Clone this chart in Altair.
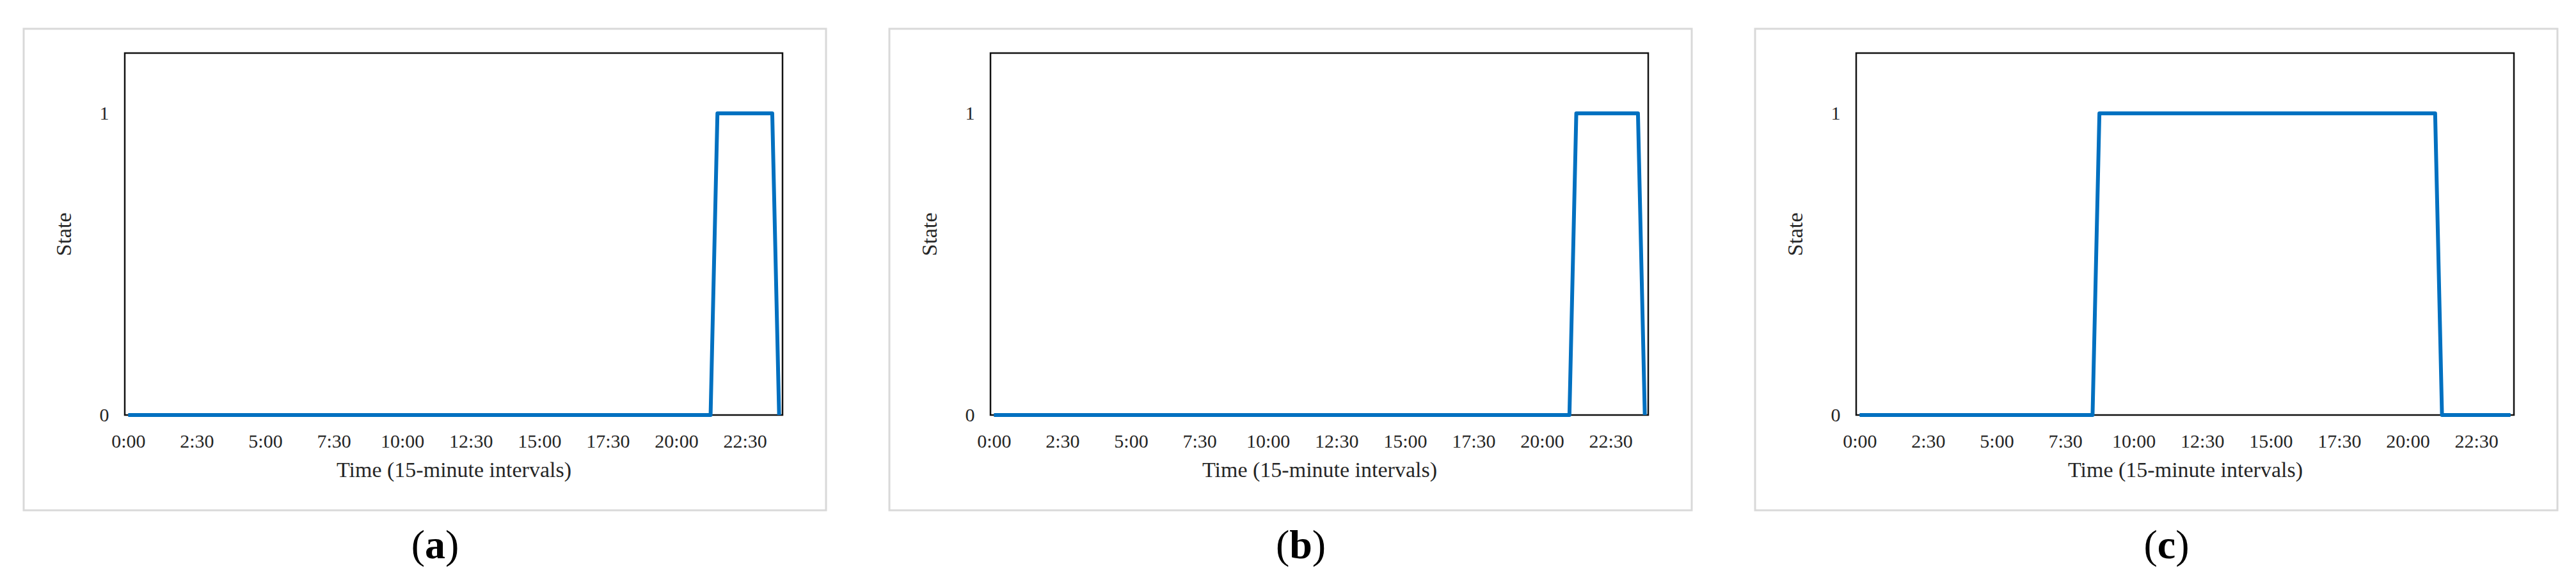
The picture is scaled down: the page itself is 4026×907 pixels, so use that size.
import altair as alt
import pandas as pd

# 15-minute time slots of one day (categories of the x axis)
times = [f"{h}:{m:02d}" for h in range(24) for m in (0, 15, 30, 45)]
# labelled ticks
x_ticks = ["0:00", "2:30", "5:00", "7:30", "10:00", "12:30", "15:00", "17:30", "20:00", "22:30"]
y_ticks = [0, 1]

# states (96 values each)
state_a = [0] * 86 + [1] * 9 + [0] * 1
state_b = [0] * 85 + [1] * 10 + [0] * 1
state_c = [0] * 35 + [1] * 50 + [0] * 11

letters = ["a", "b", "c"]
series = [state_a, state_b, state_c]

FONT = "Liberation Serif"
W, H = 1028, 566
CAP_SIZE = 64
# half widths of the bold letters (em) for placing the parentheses
HALF_W = {"a": 0.25, "b": 0.278, "c": 0.222}


def panel(states, letter):
    df = pd.DataFrame({"time": times, "state": states})
    line = alt.Chart(df).mark_line(
        color="#0070C0", strokeWidth=6, strokeJoin="round"
    ).encode(
        x=alt.X(
            "time:O",
            sort=times,
            axis=alt.Axis(
                values=x_ticks, labelAngle=0, ticks=False, tickSize=0, grid=False,
                domain=False, labelPadding=26, labelFont=FONT, labelFontSize=30,
                labelColor="#262626", title="Time (15-minute intervals)",
                titleFont=FONT, titleFontSize=34, titleFontWeight="normal",
                titleColor="#262626", titleX=W / 2, titleY=86, titleBaseline="middle",
                titleAlign="center",
            ),
        ),
        y=alt.Y(
            "state:Q",
            scale=alt.Scale(domain=[0, 1.2], nice=False, zero=True),
            axis=alt.Axis(
                values=y_ticks, format="d", ticks=False, tickSize=0, grid=False,
                domain=False, labelPadding=25, labelFont=FONT, labelFontSize=30,
                labelColor="#262626", title="State", titleFont=FONT,
                titleFontSize=34, titleFontWeight="normal", titleColor="#262626",
                titleX=-95, titleY=H / 2, titleAngle=270, titleBaseline="middle",
                titleAlign="center",
            ),
        ),
    )
    box = alt.Chart(pd.DataFrame({"k": [0]})).mark_rect(
        filled=False, stroke="#D9D9D9", strokeWidth=3
    ).encode(
        x=alt.value(-158), x2=alt.value(W + 68),
        y=alt.value(-38), y2=alt.value(H + 149),
    )
    cx, cy = 485, H + 205
    hw = HALF_W[letter] * CAP_SIZE
    cap_df = pd.DataFrame({"t": [letter]})
    cap_mid = alt.Chart(cap_df).mark_text(
        font=FONT, fontSize=CAP_SIZE, fontWeight="bold", color="black",
        align="center", baseline="middle",
    ).encode(text="t:N", x=alt.value(cx), y=alt.value(cy))
    cap_l = alt.Chart(pd.DataFrame({"t": ["("]})).mark_text(
        font=FONT, fontSize=CAP_SIZE, color="black", align="right", baseline="middle",
    ).encode(text="t:N", x=alt.value(cx - hw), y=alt.value(cy))
    cap_r = alt.Chart(pd.DataFrame({"t": [")"]})).mark_text(
        font=FONT, fontSize=CAP_SIZE, color="black", align="left", baseline="middle",
    ).encode(text="t:N", x=alt.value(cx + hw), y=alt.value(cy))
    return alt.layer(box, line, cap_l, cap_mid, cap_r).properties(width=W, height=H)


chart = alt.hconcat(
    *[panel(s, c) for s, c in zip(series, letters)],
    spacing=325,
    bounds="flush",
).properties(
    padding={"left": 26, "top": 34, "right": 10, "bottom": 10},
    background="white",
).configure_view(
    stroke="#111111", strokeWidth=2.5
)

chart.save("out.html", embed_options={"renderer": "svg", "actions": False})
